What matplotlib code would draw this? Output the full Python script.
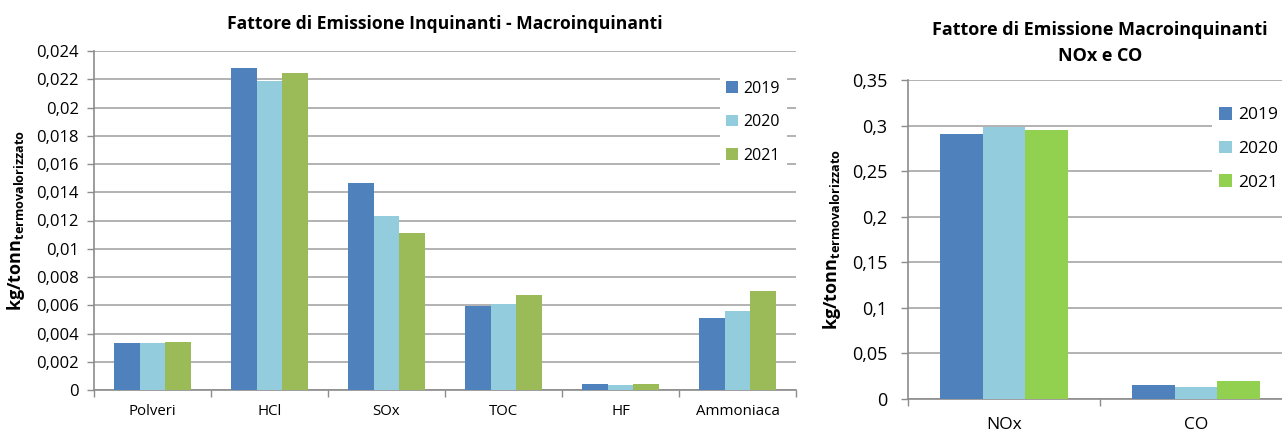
import numpy as np
import matplotlib
matplotlib.use("Agg")
import matplotlib.pyplot as plt
from matplotlib.ticker import FuncFormatter, FixedLocator

# =========================
# Dati
# =========================
anni = ["2019", "2020", "2021"]

cat_sx = ["Polveri", "HCl", "SOx", "TOC", "HF", "Ammoniaca"]
sx_2019 = [0.00336, 0.02278, 0.01468, 0.00598, 0.00042, 0.00512]
sx_2020 = [0.00332, 0.02188, 0.01232, 0.00609, 0.00038, 0.00557]
sx_2021 = [0.00340, 0.02247, 0.01109, 0.00675, 0.00040, 0.00701]

cat_dx = ["NOx", "CO"]
dx_2019 = [0.2905, 0.0149]
dx_2020 = [0.2988, 0.0135]
dx_2021 = [0.2952, 0.0200]

col_sx = ["#4F81BD", "#93CDDD", "#9BBB59"]
col_dx = ["#4F81BD", "#93CDDD", "#92D050"]

plt.rcParams['font.family'] = ['Open Sans', 'DejaVu Sans']
plt.rcParams['mathtext.fontset'] = 'custom'
plt.rcParams['mathtext.bf'] = 'Open Sans:bold'
plt.rcParams['mathtext.rm'] = 'Open Sans'

GRIGIO = "#A6A6A6"
ASSE = "#8C8C8C"

fig = plt.figure(figsize=(12.82, 4.33), dpi=100)
W, H = 1282, 433


def virgola(dec):
    def f(v, pos):
        if abs(v) < 1e-12:
            return "0"
        s = f"{v:.{dec}f}".rstrip("0").rstrip(".")
        return s.replace(".", ",")
    return FuncFormatter(f)


def grafico(ax, categorie, serie, colori, ymax, passo, dec, larg):
    x = np.arange(len(categorie))
    for i, (vals, c, lab) in enumerate(zip(serie, colori, anni)):
        ax.bar(x + (i - 1) * larg, vals, width=larg, color=c, label=lab,
               linewidth=0, zorder=3)
    ax.set_xlim(-0.5, len(categorie) - 0.5)
    ax.set_ylim(0, ymax)
    ax.set_yticks(np.arange(0, ymax + passo / 2, passo))
    ax.yaxis.set_major_formatter(virgola(dec))
    ax.set_xticks(x)
    ax.set_xticklabels(categorie)
    ax.xaxis.set_minor_locator(FixedLocator(np.arange(-0.5, len(categorie), 1.0)))
    ax.tick_params(axis='x', which='major', length=0, pad=10, labelsize=10.8)
    ax.tick_params(axis='x', which='minor', length=5, color=ASSE, width=1)
    ax.tick_params(axis='y', length=5, color=ASSE, width=1, labelsize=12, pad=6)
    ax.grid(axis='y', color=GRIGIO, linewidth=1.2, zorder=0)
    ax.set_axisbelow(True)
    for s in ['top', 'right']:
        ax.spines[s].set_visible(False)
    for s in ['left', 'bottom']:
        ax.spines[s].set_color(ASSE)
        ax.spines[s].set_linewidth(1.2)
    ax.set_ylabel(r'$\mathbf{kg/tonn}_{\mathbf{termovalorizzato}}$', fontsize=13)


# Grafico sinistro
ax1 = fig.add_axes([94 / W, 1 - 390 / H, (796 - 94) / W, (390 - 51) / H])
grafico(ax1, cat_sx, [sx_2019, sx_2020, sx_2021], col_sx, 0.024, 0.002, 3, 0.222)
ax1.set_title("Fattore di Emissione Inquinanti - Macroinquinanti",
              fontsize=12.6, fontweight='bold', pad=16)
ax1.yaxis.set_label_coords(-0.095, 0.5)
leg1 = ax1.legend(loc='upper left', bbox_to_anchor=(0.88, 0.955), fontsize=11.5,
                  handlelength=0.75, handleheight=0.75, handletextpad=0.35,
                  labelspacing=1.1, frameon=True, framealpha=1,
                  edgecolor='none', facecolor='white', borderpad=0.4)
leg1.set_zorder(5)

# Grafico destro
ax2 = fig.add_axes([908 / W, 1 - 399 / H, (1292 - 908) / W, (399 - 80) / H])
grafico(ax2, cat_dx, [dx_2019, dx_2020, dx_2021], col_dx, 0.35, 0.05, 2, 0.222)
ax2.set_title("Fattore di Emissione Macroinquinanti\nNOx e CO",
              fontsize=13, fontweight='bold', pad=14, linespacing=1.55)
ax2.yaxis.set_label_coords(-0.17, 0.5)
ax2.tick_params(axis='y', labelsize=13, pad=10)
ax2.tick_params(axis='x', labelsize=12.5, pad=13)
leg2 = ax2.legend(loc='upper left', bbox_to_anchor=(0.77, 0.965), fontsize=12.5,
                  handlelength=0.75, handleheight=0.75, handletextpad=0.35,
                  labelspacing=1.0, frameon=True, framealpha=1,
                  edgecolor='none', facecolor='white', borderpad=0.4)
leg2.set_zorder(5)

plt.savefig("out.png", dpi=100)
plt.close()
